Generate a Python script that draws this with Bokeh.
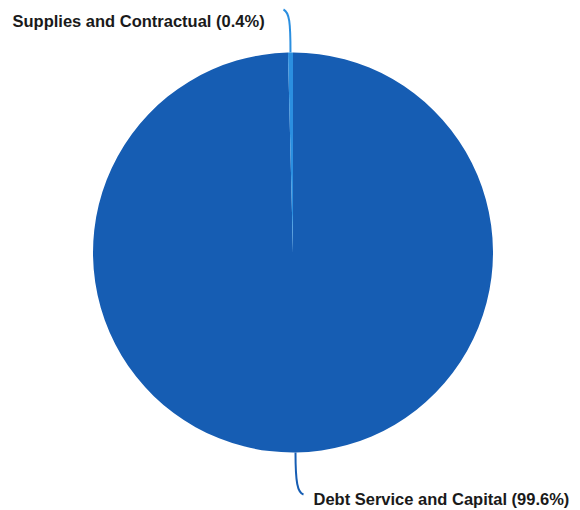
import math
from bokeh.plotting import figure
from bokeh.models import Range1d
from bokeh.core.properties import value
from bokeh.embed import file_html
from bokeh.resources import INLINE

categories = ["Debt Service and Capital", "Supplies and Contractual"]
shares = [99.6, 0.4]
colors = ["#165db3", "#2b8fe0"]

W, H = 580, 510
p = figure(width=W, height=H, output_backend="svg", toolbar_location=None,
           x_range=Range1d(0, W), y_range=Range1d(0, H), min_border=0)
p.axis.visible = False
p.grid.visible = False
p.outline_line_color = None
p.background_fill_color = "white"

cx, cy, r = 292.5, 258, 200
total = sum(shares)
small = shares[1] / total * 2 * math.pi
start_small = math.pi / 2
end_small = start_small + small
p.wedge(x=[cx], y=[cy], radius=r, start_angle=[end_small], end_angle=[start_small + 2 * math.pi],
        fill_color=colors[0], line_color=None)
p.wedge(x=[cx], y=[cy], radius=r, start_angle=[start_small], end_angle=[end_small],
        fill_color=colors[1], line_color=None)

mid_small = (start_small + end_small) / 2
ex = cx + r * math.cos(mid_small)
ey = cy + r * math.sin(mid_small)
# leader to top label
p.bezier(x0=[ex], y0=[ey], x1=[ex - 7], y1=[ey + 43], cx0=[ex], cy0=[ey + 30], cx1=[ex - 1], cy1=[ey + 40],
         line_color=colors[1], line_width=2)
# leader to bottom label
bx, by = cx + 2.5, cy - r
p.bezier(x0=[bx], y0=[by], x1=[bx + 8], y1=[by - 42], cx0=[bx], cy0=[by - 30], cx1=[bx + 2], cy1=[by - 40],
         line_color=colors[0], line_width=2)

labels = [f"{categories[1]} ({shares[1]}%)", f"{categories[0]} ({shares[0]}%)"]
p.text(x=[12, 313], y=[490, 12], text=labels, text_font=value("Liberation Sans"),
       text_font_style="bold", text_font_size="16.5px", text_color="#1a1a1a",
       text_baseline="alphabetic", text_align="left")

open("out.html", "w").write(file_html(p, INLINE))
